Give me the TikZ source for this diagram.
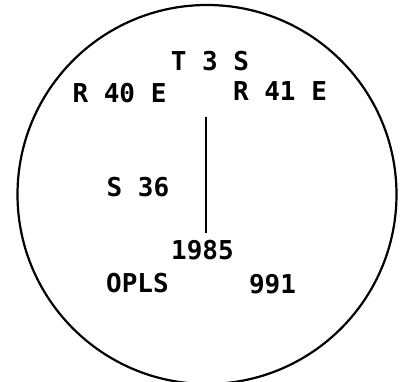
\documentclass[tikz,border=0pt]{standalone}
\usepackage{fontspec}
\newfontfamily\lettering{DejaVu Sans Mono}
\begin{document}
\begin{tikzpicture}[x=1pt,y=1pt,
  lbl/.style={inner sep=0pt, font=\lettering\bfseries\fontsize{26}{30}\selectfont}]
\useasboundingbox (0,0) rectangle (410,382);
\begin{scope}
\clip (0,0) rectangle (410,382);
\draw[line width=2.2pt] (207,187.5) circle (189.5);
\end{scope}
\node[lbl] (t3s) at (210,320.5) {T 3 S};
\node[lbl] (r40e) at (119.5,288.5) {R 40 E};
\node[lbl] (r41e) at (280,290.5) {R 41 E};
\node[lbl] (s36) at (138,195) {S 36};
\node[lbl] (y1985) at (202.5,132) {1985};
\node[lbl] (opls) at (137.5,99) {OPLS};
\node[lbl] (n991) at (272.5,98) {991};
\coordinate (ltop) at (205.7,265);
\coordinate (lbot) at (205.7,149);
\draw[line width=1.8pt] (ltop) -- (lbot);
\end{tikzpicture}
\end{document}
